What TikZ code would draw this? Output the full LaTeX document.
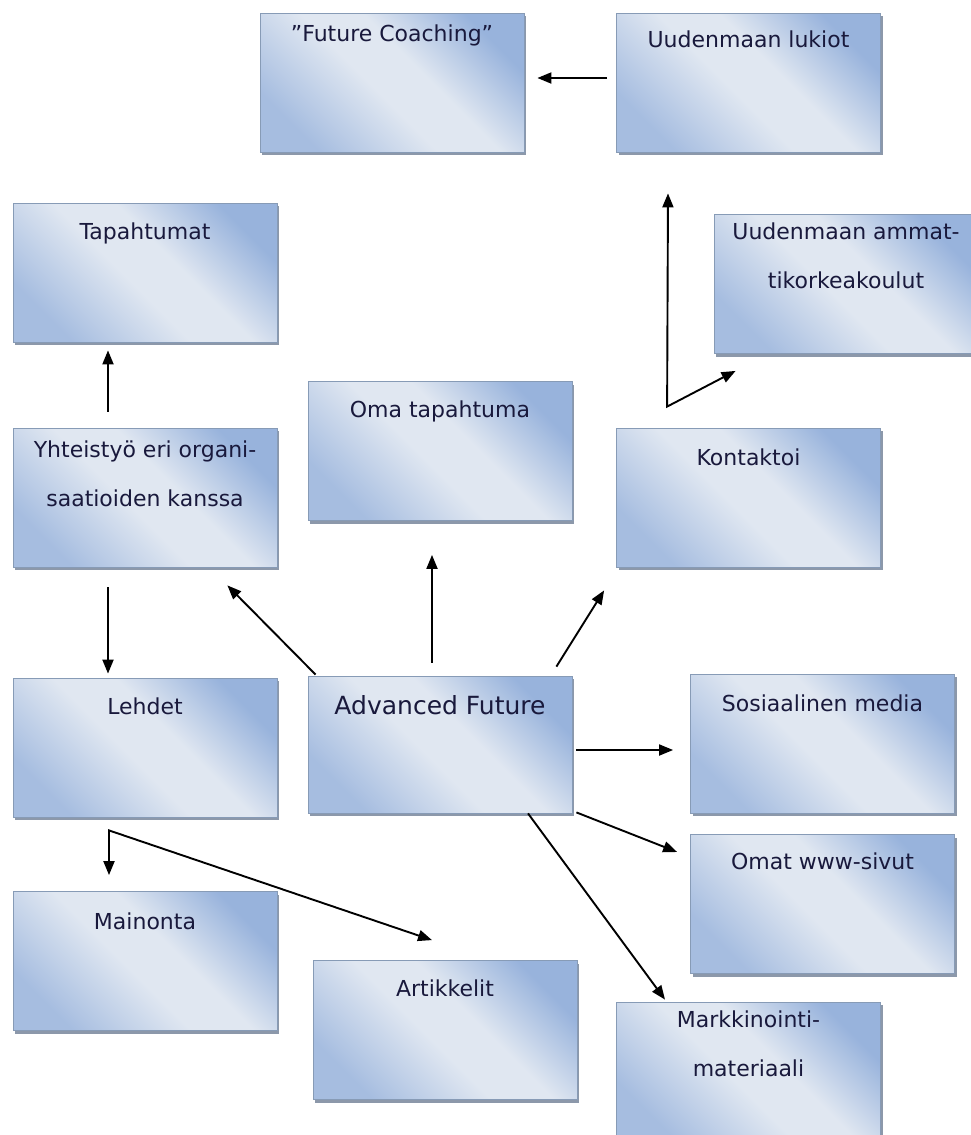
\documentclass[tikz,border=0pt]{standalone}
\usepackage{fontspec}
\setmainfont{DejaVu Sans}
\usetikzlibrary{arrows.meta,shadows,calc}
\definecolor{boxlight}{RGB}{166,189,224}
\definecolor{boxmid}{RGB}{224,231,241}
\definecolor{boxdark}{RGB}{152,179,220}
\definecolor{boxline}{RGB}{135,155,182}
\definecolor{shadowc}{RGB}{140,152,170}
\definecolor{txt}{RGB}{25,25,60}
\pgfdeclareverticalshading{boxsh}{100bp}{color(0bp)=(boxlight); color(25bp)=(boxlight); color(46bp)=(boxmid); color(57bp)=(boxmid); color(75bp)=(boxdark); color(100bp)=(boxdark)}
\begin{document}
\begin{tikzpicture}[x=1pt,y=-1pt,
  box/.style={draw=boxline, line width=0.8pt,
    shading=boxsh, shading angle=-45,
    minimum width=264pt, minimum height=139pt, inner sep=0pt,
    drop shadow={shadow xshift=2pt, shadow yshift=-3pt, fill=shadowc, opacity=1}},
  lbl/.style={anchor=north, inner sep=0pt, align=center, text=txt,
    font=\fontsize{22}{49}\selectfont, execute at begin node={\rule{0pt}{20pt}}},
  big/.style={font=\fontsize{25}{30}\selectfont},
  arr/.style={line width=1.9pt, -{Triangle[length=14pt,width=11pt]}},
  arrboth/.style={line width=1.9pt, {Triangle[length=14pt,width=11pt]}-{Triangle[length=14pt,width=11pt]}}]
\useasboundingbox (0,0) rectangle (970,1135);

% boxes
\node[box] (fc)  at (392,82.5) {};
\node[box] (luk) at (748.5,82.5) {};
\node[box] (tap) at (145,272.5) {};
\node[box] (amk) at (846,284) {};
\node[box] (oma) at (440,451) {};
\node[box] (yht) at (145,497.5) {};
\node[box] (kon) at (748.5,497.5) {};
\node[box] (leh) at (145,747.5) {};
\node[box, minimum height=137pt] (adv) at (440,744.5) {};
\node[box] (som) at (822.5,743.5) {};
\node[box] (www) at (822.5,904) {};
\node[box] (mai) at (145,961) {};
\node[box] (art) at (445,1030) {};
\node[box] (mar) at (748.5,1071.5) {};

% texts
\node[lbl] (fcT)  at ([yshift=-9pt]fc.north)  {”Future Coaching”};
\node[lbl] (lukT) at ([yshift=-15pt]luk.north) {Uudenmaan lukiot};
\node[lbl] (tapT) at ([yshift=-17pt]tap.north) {Tapahtumat};
\node[lbl] (amkT) at ([yshift=-8pt]amk.north)  {Uudenmaan ammat-\\tikorkeakoulut};
\node[lbl] (omaT) at ([yshift=-16pt]oma.north) {Oma tapahtuma};
\node[lbl] (yhtT) at ([yshift=-13pt]yht.north) {Yhteistyö eri organi-\\saatioiden kanssa};
\node[lbl] (konT) at ([yshift=-18pt]kon.north) {Kontaktoi};
\node[lbl] (lehT) at ([yshift=-17pt]leh.north) {Lehdet};
\node[lbl, big] (advT) at ([yshift=-19pt]adv.north) {Advanced Future};
\node[lbl] (somT) at ([yshift=-18pt]som.north) {Sosiaalinen media};
\node[lbl] (wwwT) at ([yshift=-15pt]www.north) {Omat www-sivut};
\node[lbl] (maiT) at ([yshift=-18pt]mai.north) {Mainonta};
\node[lbl] (artT) at ([yshift=-16pt]art.north) {Artikkelit};
\node[lbl] (marT) at ([yshift=-9pt]mar.north)  {Markkinointi-\\materiaali};

% connector points
\coordinate (kc) at ($(kon.north west)+(51,-21)$);
\coordinate (lc) at ($(leh.south)+(-36,13)$);

% connectors
\draw[arr] ($(luk.west)+(-9,-4.5)$) -- ($(fc.east)+(13,-4.5)$);
\draw[arrboth] ($(luk.south)+(-80.5,41)$) -- (kc) -- ($(amk.south west)+(22,17)$);
\draw[arr] ($(yht.north)+(-37,-16)$) -- ($(tap.south)+(-37,8)$);
\draw[arr] ($(yht.south)+(-37,20)$) -- ($(leh.north)+(-37,-4)$);
\draw[arr] ($(adv.north west)+(8,-1)$) -- ($(yht.south east)+(-50,18)$);
\draw[arr] ($(adv.north)+(-8,-13)$) -- ($(oma.south)+(-8,34)$);
\draw[arr] ($(adv.north east)+(-16,-9)$) -- ($(kon.south west)+(-12,23)$);
\draw[arr] ($(adv.east)+(4,5.5)$) -- ($(som.west)+(-17,6.5)$);
\draw[arr] ($(adv.south east)+(4,-1)$) -- ($(www.west)+(-13,-52)$);
\draw[arr] ($(adv.south)+(88,0)$) -- ($(mar.north)+(-83.5,-2)$);
\draw[arrboth] ($(mai.north)+(-36,-16)$) -- (lc) -- ($(art.north)+(-13,-20)$);
\end{tikzpicture}
\end{document}
